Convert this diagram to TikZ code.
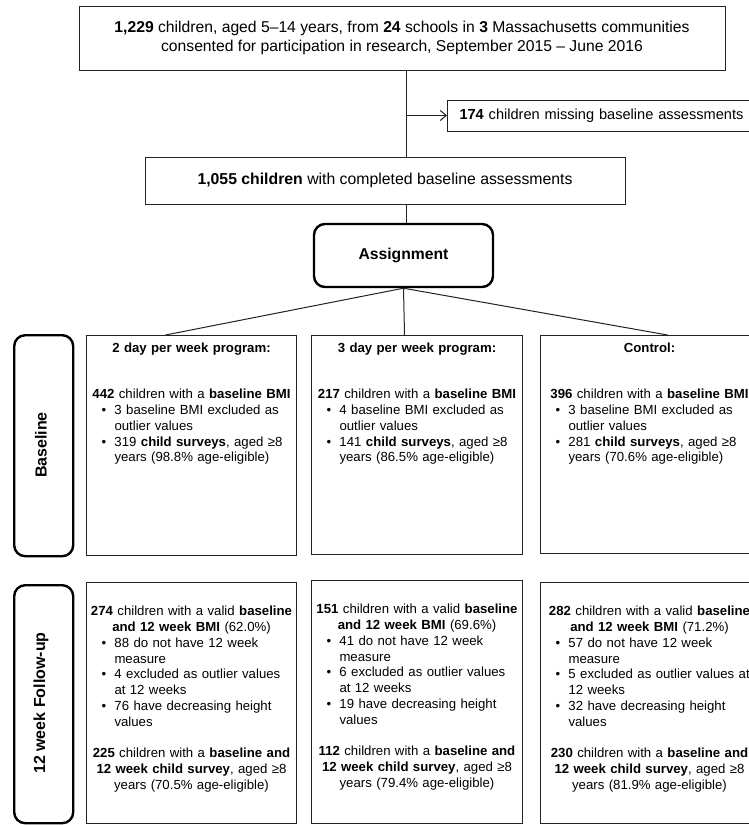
\documentclass[tikz,border=0pt]{standalone}
\usepackage{fontspec}
\setmainfont{Liberation Sans}
\usetikzlibrary{arrows.meta,positioning,calc}
\definecolor{boxline}{RGB}{35,35,35}

% bullet line and its continuation inside a group box
\newcommand{\bul}[1]{\makebox[\linewidth][l]{\makebox[28pt][l]{\hspace{15pt}\textbullet}#1}}
\newcommand{\cont}[1]{\makebox[\linewidth][l]{\hspace*{28pt}#1}}

\begin{document}
\begin{tikzpicture}[
    x=1pt, y=-1pt,
    box/.style={draw=boxline, line width=1pt, inner sep=0pt},
    group/.style={box, anchor=north west},
    phase/.style={draw=black, line width=2.4pt, rounded corners=11pt, inner sep=0pt},
    phasetext/.style={font=\bfseries\fontsize{16}{19}\selectfont, inner sep=0pt},
    body/.style={font=\fontsize{13.2}{15.8}\selectfont, align=center, inner sep=0pt, anchor=north},
    link/.style={draw=boxline, line width=1pt}
]

% Page
\path[use as bounding box, fill=white] (0,0) rectangle (748,825);

% Enrolment
\node[box, minimum width=646, minimum height=64, align=center, font=\fontsize{15.7}{19}\selectfont] (consent) at (402,38) {
    \textbf{1,229} children, aged 5–14 years, from \textbf{24} schools in \textbf{3} Massachusetts communities\\
    consented for participation in research, September 2015 – June 2016
};

% Exclusion
\node[box, anchor=west, minimum height=31, inner xsep=12pt, text width=296pt, align=left, font=\fontsize{14.6}{17}\selectfont] (missing) at (447,115.5) {\textbf{174} children missing baseline assessments};

% Completed baseline
\node[box, minimum width=480, minimum height=47, font=\fontsize{15.8}{19}\selectfont] (completed) at (385,180.5) {\textbf{1,055 children} with completed baseline assessments};

% Assignment
\node[phase, minimum width=179, minimum height=63, font=\bfseries\fontsize{15.7}{19}\selectfont] (assign) at (403.5,255.5) {Assignment};

% Trunk
\coordinate (trunk) at (406,0);
\draw[link] (consent.south -| trunk) -- (completed.north -| trunk);
\draw[link, -{Straight Barb[length=6pt, width=10pt]}] (trunk |- missing.west) -- (missing.west);
\draw[link] (completed.south -| trunk) -- (assign.north -| trunk);

% Phase labels
\node[phase, anchor=north west, minimum width=59, minimum height=221] (lbase) at (13,334) {};
\node[phasetext, rotate=90] (tbase) at (41,445) {Baseline};
\node[phase, anchor=north west, minimum width=59, minimum height=238] (lfollow) at (13,584) {};
\node[phasetext, rotate=90] (tfollow) at (41,703) {12 week Follow-up};

% Baseline boxes
\node[group, minimum width=210, minimum height=220] (base2) at (86,335) {};
\node[group, minimum width=211, minimum height=219] (base3) at (311,335) {};
\node[group, minimum width=218, minimum height=218] (basec) at (540,335) {};

% Follow-up boxes
\node[group, minimum width=210, minimum height=241] (follow2) at (86,582) {};
\node[group, minimum width=211, minimum height=243] (follow3) at (311,580) {};
\node[group, minimum width=218, minimum height=241] (followc) at (540,582) {};

% Assignment to arms
\draw[link] (assign.south) -- ([xshift=-26pt]base2.north);
\draw[link] (assign.south) -- ([xshift=-12.5pt]base3.north);
\draw[link] (assign.south) -- ([xshift=18pt]basec.north);

% Arm headings
\node[body, text width=210pt, font=\bfseries\fontsize{13.2}{15.8}\selectfont] (head2) at ([yshift=-8pt]base2.north) {2 day per week program:};
\node[body, text width=211pt, font=\bfseries\fontsize{13.2}{15.8}\selectfont] (head3) at ([yshift=-8pt]base3.north) {3 day per week program:};
\node[body, text width=218pt, font=\bfseries\fontsize{13.2}{15.8}\selectfont] (headc) at ([yshift=-8pt]basec.north) {Control:};

% Baseline counts
\node[body, text width=210pt] (bmi2) at ([yshift=-54pt]base2.north) {
    \textbf{442} children with a \textbf{baseline BMI}\\
    \bul{3 baseline BMI excluded as}\\
    \cont{outlier values}\\
    \bul{319 \textbf{child surveys}, aged ≥8}\\
    \cont{years (98.8\% age-eligible)}
};
\node[body, text width=211pt] (bmi3) at ([yshift=-54pt]base3.north) {
    \textbf{217} children with a \textbf{baseline BMI}\\
    \bul{4 baseline BMI excluded as}\\
    \cont{outlier values}\\
    \bul{141 \textbf{child surveys}, aged ≥8}\\
    \cont{years (86.5\% age-eligible)}
};
\node[body, text width=218pt] (bmic) at ([yshift=-54pt]basec.north) {
    \textbf{396} children with a \textbf{baseline BMI}\\
    \bul{3 baseline BMI excluded as}\\
    \cont{outlier values}\\
    \bul{281 \textbf{child surveys}, aged ≥8}\\
    \cont{years (70.6\% age-eligible)}
};

% Follow-up counts
\node[body, text width=210pt] (week2) at ([yshift=-24pt]follow2.north) {
    \textbf{274} children with a valid \textbf{baseline}\\
    \textbf{and 12 week BMI} (62.0\%)\\
    \bul{88 do not have 12 week}\\
    \cont{measure}\\
    \bul{4 excluded as outlier values}\\
    \cont{at 12 weeks}\\
    \bul{76 have decreasing height}\\
    \cont{values}\\[15.8pt]
    \textbf{225} children with a \textbf{baseline and}\\
    \textbf{12 week child survey}, aged ≥8\\
    years (70.5\% age-eligible)
};
\node[body, text width=211pt] (week3) at ([yshift=-24pt]follow3.north) {
    \textbf{151} children with a valid \textbf{baseline}\\
    \textbf{and 12 week BMI} (69.6\%)\\
    \bul{41 do not have 12 week}\\
    \cont{measure}\\
    \bul{6 excluded as outlier values}\\
    \cont{at 12 weeks}\\
    \bul{19 have decreasing height}\\
    \cont{values}\\[15.8pt]
    \textbf{112} children with a \textbf{baseline and}\\
    \textbf{12 week child survey}, aged ≥8\\
    years (79.4\% age-eligible)
};
\node[body, text width=218pt] (weekc) at ([yshift=-24pt]followc.north) {
    \textbf{282} children with a valid \textbf{baseline}\\
    \textbf{and 12 week BMI} (71.2\%)\\
    \bul{57 do not have 12 week}\\
    \cont{measure}\\
    \bul{5 excluded as outlier values at}\\
    \cont{12 weeks}\\
    \bul{32 have decreasing height}\\
    \cont{values}\\[15.8pt]
    \textbf{230} children with a \textbf{baseline and}\\
    \textbf{12 week child survey}, aged ≥8\\
    years (81.9\% age-eligible)
};

\end{tikzpicture}
\end{document}
